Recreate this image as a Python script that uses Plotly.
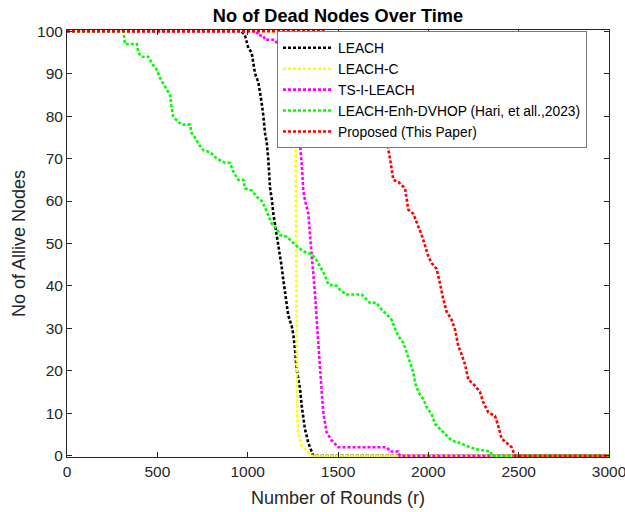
import plotly.graph_objects as go

# ---------------- data ----------------
leach_x = [0, 967, 985, 1004, 1022, 1041, 1059, 1068, 1078, 1087, 1096, 1105, 1114, 1124, 1133,
           1142, 1151, 1160, 1170, 1179, 1188, 1197, 1207, 1216, 1225, 1244, 1253, 1262, 1271,
           1290, 1299, 1317, 1336, 1354, 1363, 3000]
leach_y = [100, 100, 99, 96, 95, 90, 88, 86, 83, 80, 76, 74, 70, 63, 60.6,
           57, 54.7, 52.4, 50, 47.7, 44.6, 41.5, 38.3, 35.2, 33, 30.5, 28.5, 25, 20.4,
           15.7, 11.8, 6.3, 3, 1, 0, 0]

leachc_x = [0, 1255, 1262, 1266, 1270, 1274, 1281, 1290, 1299, 1327, 1354, 3000]
leachc_y = [100, 100, 98, 70, 30, 10, 5, 3.5, 2.4, 1.2, 0, 0]

tsi_x = [0, 1050, 1059, 1087, 1096, 1124, 1151, 1190, 1230, 1265, 1290, 1299, 1308, 1317,
         1336, 1345, 1354, 1363, 1373, 1382, 1391, 1400, 1410, 1419, 1428, 1437, 1465, 1493,
         1502, 1770, 1788, 1834, 1842, 3000]
tsi_y = [100, 100, 99, 99, 98, 98, 98, 95, 90, 82, 73.4, 68.8, 62.5, 60.2,
         57, 52, 48, 43.8, 38, 32, 25.8, 20, 15, 10, 7.5, 5.5, 3.6, 2.4,
         2, 2, 1, 1, 0, 0]

dvhop_x = [0, 312, 321, 386, 395, 413, 450, 469, 496, 515, 542, 570, 579, 588, 607, 635, 681,
           690, 708, 727, 754, 792, 829, 875, 902, 920, 948, 976, 985, 1022, 1050, 1078, 1096,
           1114, 1133, 1160, 1179, 1216, 1244, 1281, 1317, 1354, 1382, 1410, 1428, 1446, 1493,
           1520, 1548, 1631, 1659, 1677, 1714, 1742, 1770, 1797, 1815, 1834, 1862, 1880, 1899,
           1917, 1926, 1945, 1973, 1991, 2018, 2037, 2074, 2101, 2129, 2175, 2230, 2270, 2345,
           2352, 3000]
dvhop_y = [100, 100, 97, 97, 95, 94, 94, 92.5, 91, 89, 87, 85, 82, 80, 79, 78, 78,
           76, 75, 73.5, 72, 71.5, 70, 69, 69, 67, 65, 65, 63, 62.5, 61, 60, 58.5,
           56.5, 54.7, 53.5, 52, 51.6, 50.4, 49, 48, 47.5, 46, 44, 42.5, 40.3, 40,
           38.7, 38, 38, 36.8, 36, 36, 34.4, 33.3, 32, 30, 28.2, 26.6, 24.3, 22,
           19.6, 17.3, 15, 13.3, 11.4, 9.8, 7.5, 5.9, 4.8, 3.6, 3, 2, 1.5, 1,
           0, 0]

prop_x = [0, 1420, 1450, 1550, 1650, 1720, 1770, 1788, 1806, 1834, 1871, 1889, 1917, 1945,
          1963, 1982, 2000, 2018, 2046, 2064, 2083, 2101, 2129, 2148, 2166, 2184, 2203, 2221,
          2258, 2286, 2304, 2332, 2369, 2387, 2406, 2434, 2461, 2470, 2480, 3000]
prop_y = [100, 100, 99, 95, 86, 80, 74, 70, 65, 64.5, 63, 58, 57, 54,
          52, 49.5, 47, 45.4, 44, 40.7, 36.8, 34, 32, 29.7, 25.8, 23.9, 21.5, 18,
          16.5, 15, 12.6, 10.2, 9.4, 7, 4, 3, 2, 1, 0, 0]

series_names = ["LEACH", "LEACH-C", "TS-I-LEACH",
                "LEACH-Enh-DVHOP (Hari, et all.,2023)", "Proposed (This Paper)"]
series_x = [leach_x, leachc_x, tsi_x, dvhop_x, prop_x]
series_y = [leach_y, leachc_y, tsi_y, dvhop_y, prop_y]
series_colors = ["#000000", "#FFFF00", "#FF00FF", "#00FF00", "#FF0000"]

x_ticks = [0, 500, 1000, 1500, 2000, 2500, 3000]
y_ticks = [0, 10, 20, 30, 40, 50, 60, 70, 80, 90, 100]

FONT = "Liberation Sans, Arial, Helvetica, sans-serif"
AX = "#262626"

fig = go.Figure()
for name, xs, ys, col in zip(series_names, series_x, series_y, series_colors):
    fig.add_trace(go.Scatter(x=xs, y=ys, mode="lines", name=name,
                             line=dict(color=col, width=2.6, dash="3px,2px")))

fig.update_layout(
    width=625, height=512,
    margin=dict(l=67, r=16, t=30, b=55),
    paper_bgcolor="white", plot_bgcolor="white",
    font=dict(family=FONT, color=AX),
    title=dict(text="<b>No of Dead Nodes Over Time</b>", x=0.5, xref="paper",
               y=1 - 16 / 512, yref="container", xanchor="center", yanchor="middle",
               font=dict(size=18.2, color="#000000", family=FONT)),
    showlegend=True,
    legend=dict(x=0.3875, y=0.997, xanchor="left", yanchor="top",
                bgcolor="white", bordercolor="#7a7a7a", borderwidth=1,
                font=dict(size=13.8, color="#000000", family=FONT),
                itemwidth=50, tracegroupgap=0, entrywidth=262, entrywidthmode="pixels"),
)
fig.update_xaxes(range=[0, 3000], tickvals=x_ticks, ticks="inside", ticklen=5,
                 tickcolor=AX, showline=True, linecolor=AX, linewidth=1, mirror="ticks",
                 showgrid=False, zeroline=False, tickfont=dict(size=15.5, color=AX),
                 ticklabeloverflow="allow", automargin=False,
                 title=dict(text="Number of Rounds (r)", font=dict(size=18, color=AX),
                            standoff=12))
fig.update_yaxes(range=[-0.3, 100.3], tickvals=y_ticks, ticks="inside", ticklen=5,
                 tickcolor=AX, showline=True, linecolor=AX, linewidth=1, mirror="ticks",
                 showgrid=False, zeroline=False, tickfont=dict(size=15.5, color=AX),
                 automargin=False,
                 title=dict(text="No of Allive Nodes", font=dict(size=18, color=AX),
                            standoff=6))

fig.write_html("out.html")
